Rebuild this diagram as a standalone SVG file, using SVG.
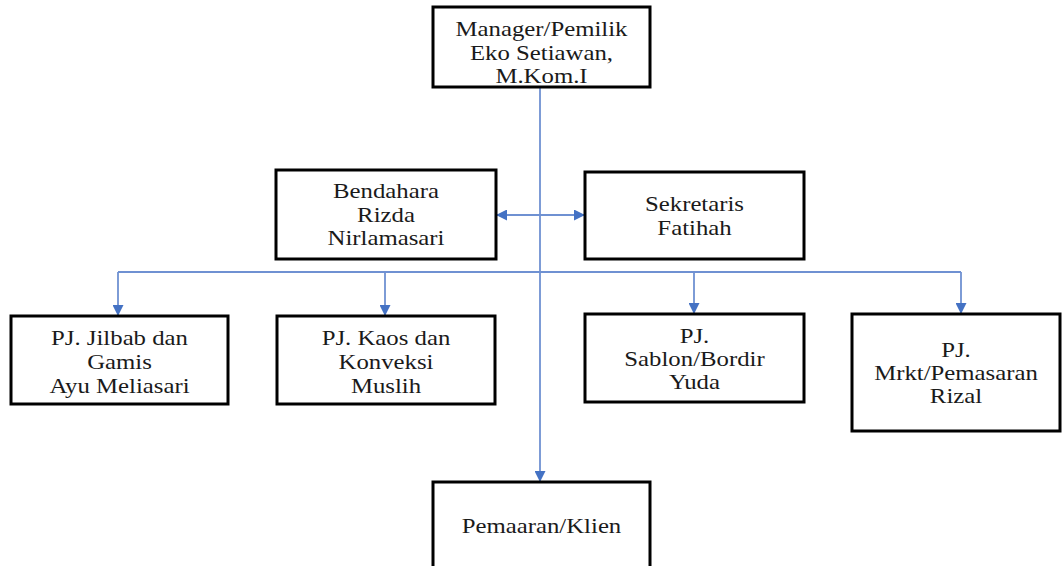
<svg xmlns="http://www.w3.org/2000/svg" width="1063" height="566" viewBox="0 0 1063 566">
<style>
.box{fill:#fff;stroke:#000;stroke-width:3}
.t{font-family:'Liberation Serif','DejaVu Serif',serif;font-size:21px;text-anchor:middle;fill:#1a1a1a}
.c{fill:none;stroke:#6f91d2;stroke-width:1.8}
</style>
<defs>
<marker id="ah" viewBox="0 0 10 10" refX="10" refY="5" markerWidth="11" markerHeight="11" markerUnits="userSpaceOnUse" orient="auto-start-reverse">
<path d="M0,0 L10,5 L0,10 z" fill="#4472c4"/>
</marker>
</defs>
<rect width="1063" height="566" fill="#fff"/>
<g id="connectors">
<path class="c" d="M540,87 V482" marker-end="url(#ah)"/>
<path class="c" d="M496,215 H585" marker-start="url(#ah)" marker-end="url(#ah)"/>
<path class="c" d="M118,272 H961"/>
<path class="c" d="M118,272 V316" marker-end="url(#ah)"/>
<path class="c" d="M961,272 V314" marker-end="url(#ah)"/>
<path class="c" d="M385,272 V316" marker-end="url(#ah)"/>
<path class="c" d="M694,272 V314" marker-end="url(#ah)"/>
</g>
<g id="manager">
<rect class="box" x="433" y="7" width="217" height="80"/>
<text class="t" font-family="Liberation Serif, serif" transform="translate(541.5,0) scale(1.18,1)"><tspan x="0" y="36.5">Manager/Pemilik</tspan><tspan x="0" y="60">Eko Setiawan,</tspan><tspan x="0" y="83.5">M.Kom.I</tspan></text>
</g>
<g id="bendahara">
<rect class="box" x="276" y="170" width="220" height="89"/>
<text class="t" transform="translate(386,0) scale(1.18,1)"><tspan x="0" y="198.5">Bendahara</tspan><tspan x="0" y="222">Rizda</tspan><tspan x="0" y="245.5">Nirlamasari</tspan></text>
</g>
<g id="sekretaris">
<rect class="box" x="585" y="172" width="219" height="87"/>
<text class="t" transform="translate(694.5,0) scale(1.18,1)"><tspan x="0" y="211.5">Sekretaris</tspan><tspan x="0" y="235.5">Fatihah</tspan></text>
</g>
<g id="pj-jilbab">
<rect class="box" x="11" y="316" width="217" height="88"/>
<text class="t" transform="translate(119.5,0) scale(1.18,1)"><tspan x="0" y="345">PJ. Jilbab dan</tspan><tspan x="0" y="369">Gamis</tspan><tspan x="0" y="393">Ayu Meliasari</tspan></text>
</g>
<g id="pj-kaos">
<rect class="box" x="277" y="316" width="218" height="88"/>
<text class="t" transform="translate(386,0) scale(1.18,1)"><tspan x="0" y="345">PJ. Kaos dan</tspan><tspan x="0" y="369">Konveksi</tspan><tspan x="0" y="393">Muslih</tspan></text>
</g>
<g id="pj-sablon">
<rect class="box" x="585" y="314" width="219" height="88"/>
<text class="t" transform="translate(694.5,0) scale(1.18,1)"><tspan x="0" y="343">PJ.</tspan><tspan x="0" y="366">Sablon/Bordir</tspan><tspan x="0" y="389">Yuda</tspan></text>
</g>
<g id="pj-mrkt">
<rect class="box" x="852" y="314" width="208" height="117"/>
<text class="t" transform="translate(956,0) scale(1.18,1)"><tspan x="0" y="357">PJ.</tspan><tspan x="0" y="380">Mrkt/Pemasaran</tspan><tspan x="0" y="403">Rizal</tspan></text>
</g>
<g id="pemasaran-klien">
<rect class="box" x="433" y="482" width="217" height="92"/>
<text class="t" transform="translate(541.5,0) scale(1.18,1)"><tspan x="0" y="533">Pemaaran/Klien</tspan></text>
</g>
</svg>
